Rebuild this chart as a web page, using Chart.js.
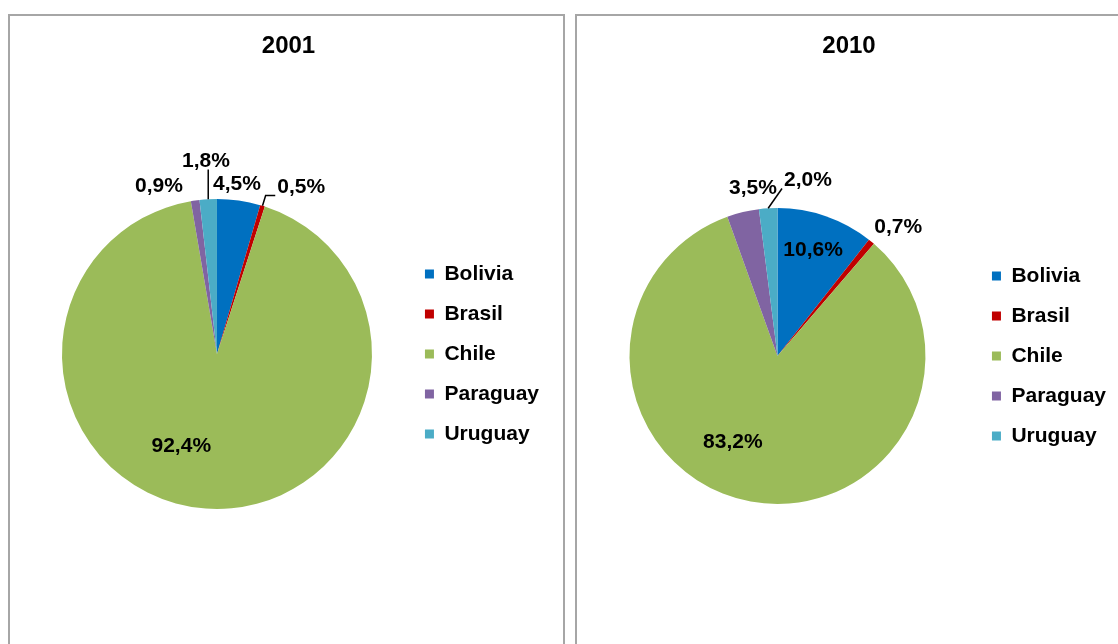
<!DOCTYPE html>
<html>
<head>
<meta charset="utf-8">
<script src="https://cdn.jsdelivr.net/npm/chart.js@4.4.1/dist/chart.umd.min.js"></script>
<style>
  body { margin: 0; background: #fff; overflow: hidden; width: 1118px; height: 644px; position: relative; }
  .panel { position: absolute; top: 14px; width: 553px; height: 700px; border: 2px solid #a6a6a6; background: #fff; }
  .panel canvas { position: absolute; left: 1px; top: 1px; }
</style>
</head>
<body>
<div class="panel" style="left:8px"><canvas id="c2001" width="551" height="627"></canvas></div>
<div class="panel" style="left:575px"><canvas id="c2010" width="551" height="627"></canvas></div>
<script>
const countries = ['Bolivia', 'Brasil', 'Chile', 'Paraguay', 'Uruguay'];
const share2001 = [4.5, 0.5, 92.4, 0.9, 1.8];
const share2010 = [10.6, 0.7, 83.2, 3.5, 2.0];

const colors = ['#0070C0', '#C00000', '#9BBB59', '#8064A2', '#4BACC6'];
const family = '"Liberation Sans", Arial, sans-serif';

// where each data label sits: k = fraction of radius, turn = degrees off the slice middle
const place2001 = [
  { k: 1.11, turn: -1.4 },
  { k: 1.21, turn: 9.6, leader: true },
  { k: 0.63, turn: 17.3 },
  { k: 1.15, turn: -10.9 },
  { k: 1.25, turn: 0, leader: true }
];
const place2010 = [
  { k: 0.76, turn: -0.6 },
  { k: 1.2, turn: 3.4 },
  { k: 0.65, turn: 17.2 },
  { k: 1.15, turn: 5.2 },
  { k: 1.21, turn: 13.4, leader: true }
];

const pieLabels = {
  id: 'pieLabels',
  afterDatasetsDraw(chart, args, opts) {
    const { ctx } = chart;
    const meta = chart.getDatasetMeta(0);
    const values = chart.data.datasets[0].data;
    ctx.save();
    ctx.font = 'bold 21px ' + family;
    ctx.textAlign = 'center';
    ctx.textBaseline = 'middle';
    ctx.fillStyle = '#000';
    ctx.strokeStyle = '#000';
    ctx.lineWidth = 1.5;
    meta.data.forEach((arc, i) => {
      const p = opts.place[i];
      const { x, y, startAngle, endAngle, outerRadius } =
        arc.getProps(['x', 'y', 'startAngle', 'endAngle', 'outerRadius'], true);
      const mid = (startAngle + endAngle) / 2;
      const a = mid + p.turn * Math.PI / 180;
      const lx = x + Math.cos(a) * outerRadius * p.k;
      const ly = y + Math.sin(a) * outerRadius * p.k;
      const text = values[i].toFixed(1).replace('.', ',') + '%';
      if (p.leader) {
        const w = ctx.measureText(text).width / 2 + 2, h = 9;
        const ex = x + Math.cos(mid) * outerRadius, ey = y + Math.sin(mid) * outerRadius;
        const tx = Math.min(Math.max(ex, lx - w), lx + w);
        const ty = Math.min(Math.max(ey, ly - h), ly + h);
        ctx.beginPath();
        ctx.moveTo(ex, ey);
        if (Math.abs(tx - ex) > Math.abs(ty - ey) * 0.8) {
          ctx.lineTo(ex + Math.sign(tx - ex) * Math.abs(ty - ey) * 0.3, ty);
        }
        ctx.lineTo(tx, ty);
        ctx.stroke();
      }
      ctx.fillText(text, lx, ly + 1);
    });
    ctx.restore();
  }
};

function makePie(id, title, values, place, pad) {
  return new Chart(document.getElementById(id), {
    type: 'pie',
    data: {
      labels: countries,
      datasets: [{ data: values, backgroundColor: colors, borderWidth: 0 }]
    },
    options: {
      responsive: false,
      animation: false,
      events: [],
      layout: { padding: pad.layout },
      plugins: {
        title: {
          display: true,
          text: title,
          color: '#000',
          font: { family, size: 24, weight: 'bold' },
          padding: { top: 14.6, bottom: pad.title }
        },
        legend: {
          position: 'right',
          fullSize: false,
          labels: {
            boxWidth: 9,
            boxHeight: 9,
            padding: 19,
            color: '#000',
            font: { family, size: 21, weight: 'bold' }
          }
        },
        tooltip: { enabled: false },
        pieLabels: { place }
      }
    },
    plugins: [pieLabels]
  });
}

makePie('c2001', '2001', share2001, place2001,
  { layout: { left: 17, right: 13, top: 0, bottom: 135 }, title: 138.6 });
makePie('c2010', '2010', share2010, place2010,
  { layout: { left: 4, right: 13, top: 0, bottom: 140 }, title: 147.6 });
</script>
</body>
</html>
